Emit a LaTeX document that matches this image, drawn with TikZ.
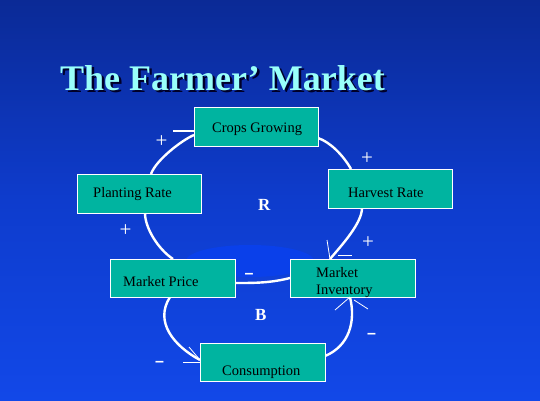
\documentclass[tikz,border=0pt]{standalone}
\usepackage{fontspec}
\setmainfont{Liberation Serif}
\setsansfont{Liberation Sans}
\usetikzlibrary{calc}
\definecolor{boxfill}{RGB}{0,180,160}
\definecolor{titlec}{RGB}{153,255,250}
\definecolor{shadowc}{RGB}{0,0,40}
\definecolor{bgtop}{RGB}{9,30,95}
\definecolor{bgq1}{RGB}{11,42,150}
\definecolor{bgmid}{RGB}{14,60,205}
\definecolor{bgq3}{RGB}{18,72,232}
\definecolor{bgbot}{RGB}{22,82,242}
\definecolor{hlc}{RGB}{10,64,234}
\pgfdeclareverticalshading{bgshade}{100bp}{color(0bp)=(bgbot); color(25bp)=(bgq3); color(50bp)=(bgmid); color(75bp)=(bgq1); color(100bp)=(bgtop)}
\newcommand\shadowtext[1]{\rlap{\kern2.5pt\raisebox{-2.5pt}{\color{shadowc}#1}}\color{titlec}#1}
\begin{document}
\begin{tikzpicture}[x=1pt,y=-1pt,
  box/.style={draw=white, line width=0.9pt, fill=boxfill, inner sep=0pt, outer sep=0pt},
  lbl/.style={text=black, inner sep=0pt, font=\fontsize{14.5}{17}\selectfont, anchor=base west},
  conn/.style={draw=white, line width=2.4pt},
  tipline/.style={draw=white, line width=0.8pt},
  plus/.style={text=white, inner sep=0pt, font=\fontsize{21}{21}\selectfont},
  minus/.style={text=white, inner sep=0pt, font=\sffamily\bfseries\fontsize{16}{16}\selectfont, anchor=base},
  loopl/.style={text=white, inner sep=0pt, font=\bfseries\fontsize{17}{17}\selectfont, anchor=base west},
  ttl/.style={inner sep=0pt, font=\bfseries\fontsize{36}{40}\selectfont, anchor=base west}
]
\useasboundingbox (0,0) rectangle (540,400);
\shade[shading=bgshade] (0,0) rectangle (540,400);
\fill[hlc] (250,261) ellipse [x radius=64, y radius=16];

% title with shadow
\node[ttl] (title) at (60,90) {\shadowtext{The Farmer’ Market}};

% boxes
\node[box, minimum width=124pt, minimum height=39pt] (cg) at (256,126.5) {};
\node[box, minimum width=124pt, minimum height=39pt] (hr) at (390,188.5) {};
\node[box, minimum width=124pt, minimum height=39pt] (pr) at (139,193.5) {};
\node[box, minimum width=125pt, minimum height=38pt] (mp) at (172.5,278) {};
\node[box, minimum width=125pt, minimum height=38pt] (mi) at (352.5,278) {};
\node[box, minimum width=125pt, minimum height=38pt] (co) at (262.5,362) {};

% tip coordinates
\coordinate (t2) at ([xshift=40pt]mi.north west);
\coordinate (t6) at ([yshift=2pt]co.west);
\coordinate (t7) at ([xshift=60pt]mi.south west);

% connectors
\draw[conn] ([yshift=-11.5pt]cg.east) .. controls +(12,4) and +(-8,-14) .. ([xshift=23pt]hr.north west);
\draw[conn] ([xshift=34pt]hr.south west) .. controls +(0,15) and +(12,-14) .. (t2);
\draw[conn] (mi.west) .. controls +(-20,5) and +(20,0) .. ([yshift=-5pt]mp.east);
\draw[conn] ([xshift=63pt]mp.north west) .. controls +(-15,-10) and +(0,15) .. ([xshift=68pt]pr.south west);
\draw[conn] ([xshift=74pt]pr.north west) .. controls +(5,-14) and +(-12,5) .. ([yshift=-8.5pt]cg.west);
\draw[conn] ([xshift=60pt]mp.south west) .. controls +(-16,25) and +(-26,-14) .. (t6);
\draw[conn] ([yshift=6pt]co.east) .. controls +(24,-10) and +(6,25) .. (t7);

% redraw boxes over connector ends
\node[box, minimum width=124pt, minimum height=39pt] at (cg) {};
\node[box, minimum width=124pt, minimum height=39pt] at (hr) {};
\node[box, minimum width=124pt, minimum height=39pt] at (pr) {};
\node[box, minimum width=125pt, minimum height=38pt] at (mp) {};
\node[box, minimum width=125pt, minimum height=38pt] at (mi) {};
\node[box, minimum width=125pt, minimum height=38pt] at (co) {};

% arrowhead fragments
\draw[tipline, line width=1.8pt] ([xshift=-21pt,yshift=-4.5pt]cg.west) -- ([yshift=-4.5pt]cg.west);
\draw[tipline] (t2) -- ++(-3,-19);
\draw[tipline] ($(t2)+(8,-4)$) -- ++(14,0);
\draw[tipline] (t6) -- ++(-11,-13);
\draw[tipline] ($(t6)+(-17,2)$) -- ++(17,0);
\draw[tipline] (t7) -- ++(-15,13);
\draw[tipline] ($(t7)+(4,3)$) -- ++(14,9);

% labels in boxes
\node[lbl] (cgt) at (212,132) {Crops Growing};
\node[lbl] (hrt) at (348,197) {Harvest Rate};
\node[lbl] (prt) at (93,197) {Planting Rate};
\node[lbl] (mpt) at (123,286) {Market Price};
\node[lbl] (mit1) at (316,277) {Market};
\node[lbl] (mit2) at (316,294) {Inventory};
\node[lbl] (cot) at (222,375) {Consumption};

% loop labels
\node[loopl] (R) at (258,210) {R};
\node[loopl] (B) at (255,320) {B};

% polarity signs
\node[plus] (p1) at (161.5,142) {+};
\node[plus] (p2) at (367,159) {+};
\node[plus] (p3) at (125.5,231) {+};
\node[plus] (p4) at (368,243) {+};
\node[minus] (m1) at (249,278.5) {–};
\node[minus] (m2) at (159.5,366.5) {–};
\node[minus] (m3) at (371.5,338.5) {–};
\end{tikzpicture}
\end{document}
